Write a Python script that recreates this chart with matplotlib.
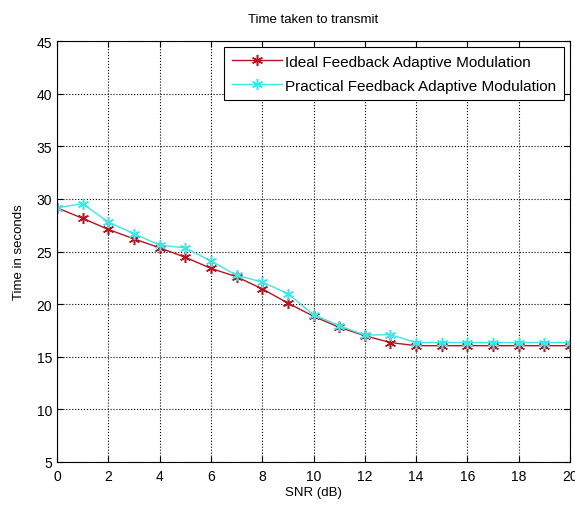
import numpy as np
import matplotlib
matplotlib.use("Agg")
import matplotlib.pyplot as plt

plt.rcParams['font.family'] = ['Liberation Sans', 'DejaVu Sans']

# SNR values and time taken
snr = list(range(0, 21))
ideal = [29.15, 28.15, 27.1, 26.2, 25.35, 24.45, 23.4, 22.6, 21.45, 20.1,
         18.85, 17.8, 17.0, 16.35, 16.05, 16.05, 16.05, 16.05, 16.05, 16.05, 16.05]
practical = [29.15, 29.55, 27.8, 26.7, 25.6, 25.35, 24.1, 22.75, 22.1, 21.0,
             19.0, 17.95, 17.05, 17.1, 16.35, 16.35, 16.35, 16.35, 16.35, 16.35, 16.35]

fig = plt.figure(figsize=(5.75, 5.06), dpi=100)
ax = fig.add_axes([57/575, 1-463/506, (570-57)/575, (463-42)/506])

# matlab style asterisk markers
ast = (6, 2, 0)
ax.plot(snr, ideal, color='#b81420', marker=ast, markersize=8, markeredgewidth=1.1,
        linewidth=1, label='Ideal Feedback Adaptive Modulation')
ax.plot(snr, practical, color='#3ee6e6', marker=ast, markersize=8, markeredgewidth=1.1,
        linewidth=1, label='Practical Feedback Adaptive Modulation')

ax.set_xlim(0, 20)
ax.set_ylim(5, 45)
ax.set_xticks(np.arange(0, 21, 2))
ax.set_yticks(np.arange(5, 46, 5))
ax.tick_params(direction='in', top=True, right=True, labelsize=10, length=4)
ax.tick_params(axis='x', pad=5)
ax.grid(True, linestyle=':', color='black', linewidth=0.8)
for s in ax.spines.values():
    s.set_linewidth(0.8)

ax.set_title('Time taken to transmit', fontsize=9.5, pad=14)
ax.set_xlabel('SNR (dB)', fontsize=9.5, labelpad=2)
ax.set_ylabel('Time in seconds', fontsize=9.5, labelpad=8)

leg = ax.legend(loc='upper right', fontsize=11, fancybox=False, framealpha=1,
                edgecolor='black', borderaxespad=0.4, handlelength=3.3,
                labelspacing=0.65, handletextpad=0.2, borderpad=0.5)
leg.get_frame().set_linewidth(0.8)

fig.savefig('out.png')
